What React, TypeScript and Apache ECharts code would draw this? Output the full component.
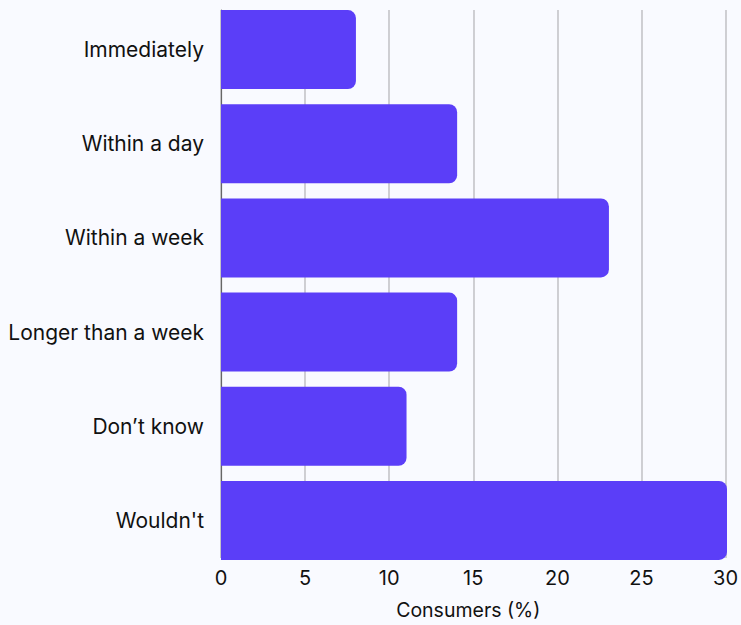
import React, { useEffect, useRef } from "react";
import * as echarts from "echarts";

const categories = ["Immediately", "Within a day", "Within a week", "Longer than a week", "Don’t know", "Wouldn't"];
const values = [8, 14, 23, 14, 11, 30];
const xTicks = [0, 5, 10, 15, 20, 25, 30];
const xAxisName = "Consumers (%)";

export default function App() {
  const ref = useRef<HTMLDivElement>(null);
  useEffect(() => {
    const chart = echarts.init(ref.current!, null, { renderer: "svg" });
    const font = "Inter, 'Noto Sans', sans-serif";
    chart.setOption({
      animation: false,
      backgroundColor: "#f9faff",
      grid: [
        { left: 221, right: 14, top: 10, height: 550 },
        { left: 221, right: 14, top: 2.5, height: 565 },
      ],
      xAxis: [
        {
          gridIndex: 0,
          type: "value",
          min: xTicks[0],
          max: xTicks[xTicks.length - 1],
          interval: xTicks[1] - xTicks[0],
          axisLine: { show: false },
          axisTick: { show: false },
          splitLine: { show: true, lineStyle: { color: "#c4c4c8", width: 1.6 } },
          axisLabel: { fontSize: 20, color: "#111111", fontFamily: font, margin: 10 },
          name: xAxisName,
          nameLocation: "middle",
          nameGap: 42,
          nameTextStyle: { fontSize: 19.5, color: "#111111", fontFamily: font, padding: [0, 10, 0, 0] },
        },
        {
          gridIndex: 1,
          type: "value",
          min: xTicks[0],
          max: xTicks[xTicks.length - 1],
          show: false,
        },
      ],
      yAxis: [
        {
          gridIndex: 0,
          type: "value",
          min: 0,
          max: 1,
          axisLine: { show: true, lineStyle: { color: "#666666", width: 1.2 } },
          axisTick: { show: false },
          axisLabel: { show: false },
          splitLine: { show: false },
        },
        {
          gridIndex: 1,
          type: "category",
          data: categories,
          inverse: true,
          axisLine: { show: false },
          axisTick: { show: false },
          splitLine: { show: false },
          axisLabel: { fontSize: 21, color: "#111111", fontFamily: font, margin: 17 },
        },
      ],
      series: [
        {
          type: "bar",
          xAxisIndex: 1,
          yAxisIndex: 1,
          data: values,
          barWidth: 79,
          itemStyle: { color: "#5b3ef8", borderRadius: [0, 8, 8, 0] },
        },
      ],
    });
    return () => chart.dispose();
  }, []);
  return (
    <div
      ref={ref}
      style={{ position: "absolute", left: 0, top: 0, width: 741, height: 625 }}
    />
  );
}
